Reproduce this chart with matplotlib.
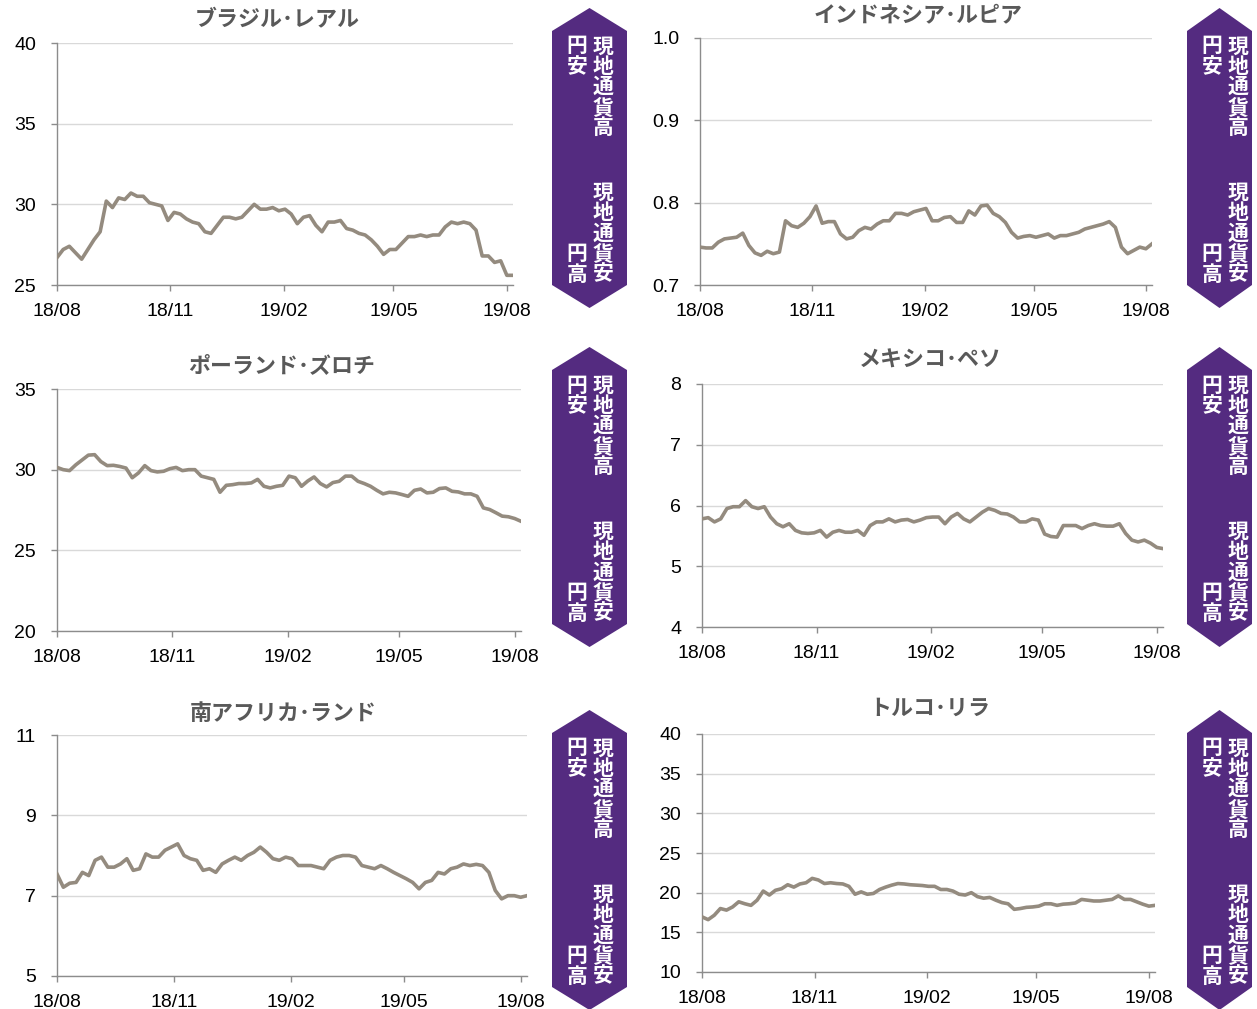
#!/usr/bin/env python3
"""
Emerging market currencies vs JPY (18/08 - 19/08), six small panels
"""
import numpy as np
import pandas as pd
import matplotlib
matplotlib.use('Agg')
import matplotlib.pyplot as plt
import matplotlib.dates as mdates
from matplotlib.patches import Polygon

# ---- data (~5 day steps) ----
date_start = '2018-08-01'
date_end = '2019-08-06'
tick_dates = ['2018-08-01', '2018-11-01', '2019-02-01', '2019-05-01', '2019-08-01']
tick_labels = ['18/08', '18/11', '19/02', '19/05', '19/08']

titles = ['ブラジル･レアル', 'インドネシア･ルピア', 'ポーランド･ズロチ',
          'メキシコ･ペソ', '南アフリカ･ランド', 'トルコ･リラ']

brl = [26.7, 27.2, 27.4, 27.0, 26.6, 27.2, 27.8, 28.3, 30.2, 29.8,
       30.4, 30.3, 30.7, 30.5, 30.5, 30.1, 30.0, 29.9, 29.0, 29.5,
       29.4, 29.1, 28.9, 28.8, 28.3, 28.2, 28.7, 29.2, 29.2, 29.1,
       29.2, 29.6, 30.0, 29.7, 29.7, 29.8, 29.6, 29.7, 29.4, 28.8,
       29.2, 29.3, 28.7, 28.3, 28.9, 28.9, 29.0, 28.5, 28.4, 28.2,
       28.1, 27.8, 27.4, 26.9, 27.2, 27.2, 27.6, 28.0, 28.0, 28.1,
       28.0, 28.1, 28.1, 28.6, 28.9, 28.8, 28.9, 28.8, 28.4, 26.8,
       26.8, 26.4, 26.5, 25.6, 25.6]

idr = [0.746, 0.745, 0.745, 0.752, 0.756, 0.757, 0.758, 0.763, 0.748, 0.739,
       0.736, 0.741, 0.738, 0.740, 0.778, 0.772, 0.770, 0.775, 0.783, 0.796,
       0.775, 0.777, 0.777, 0.762, 0.756, 0.758, 0.766, 0.770, 0.768, 0.774,
       0.778, 0.778, 0.787, 0.787, 0.785, 0.789, 0.791, 0.793, 0.778, 0.778,
       0.782, 0.783, 0.776, 0.776, 0.790, 0.785, 0.796, 0.797, 0.787, 0.783,
       0.776, 0.764, 0.757, 0.759, 0.760, 0.758, 0.760, 0.762, 0.757, 0.760,
       0.760, 0.762, 0.764, 0.768, 0.770, 0.772, 0.774, 0.777, 0.770, 0.746,
       0.738, 0.742, 0.746, 0.744, 0.750]

pln = [30.14, 30.0, 29.94, 30.3, 30.6, 30.9, 30.93, 30.5, 30.25, 30.27,
       30.2, 30.1, 29.5, 29.8, 30.25, 29.94, 29.86, 29.9, 30.06, 30.14,
       29.94, 30.0, 30.0, 29.6, 29.5, 29.4, 28.6, 29.03, 29.07, 29.14,
       29.14, 29.18, 29.4, 28.97, 28.87, 28.97, 29.03, 29.6, 29.5, 28.97,
       29.3, 29.55, 29.14, 28.93, 29.2, 29.28, 29.6, 29.6, 29.28, 29.14,
       28.97, 28.72, 28.5, 28.6, 28.56, 28.46, 28.35, 28.72, 28.8, 28.56,
       28.6, 28.83, 28.87, 28.66, 28.62, 28.5, 28.5, 28.35, 27.63, 27.53,
       27.33, 27.12, 27.08, 26.97, 26.8]

mxn = [5.78, 5.80, 5.73, 5.78, 5.95, 5.98, 5.98, 6.08, 5.98, 5.95,
       5.98, 5.81, 5.70, 5.65, 5.70, 5.59, 5.55, 5.54, 5.55, 5.59,
       5.48, 5.56, 5.59, 5.56, 5.56, 5.59, 5.51, 5.67, 5.73, 5.73,
       5.78, 5.73, 5.76, 5.77, 5.73, 5.76, 5.80, 5.81, 5.81, 5.70,
       5.81, 5.87, 5.78, 5.73, 5.81, 5.89, 5.95, 5.92, 5.87, 5.86,
       5.81, 5.73, 5.73, 5.78, 5.76, 5.53, 5.49, 5.48, 5.67, 5.67,
       5.67, 5.62, 5.67, 5.70, 5.67, 5.66, 5.66, 5.70, 5.54, 5.43,
       5.40, 5.43, 5.38, 5.31, 5.29]

zar = [7.54, 7.21, 7.31, 7.33, 7.58, 7.50, 7.88, 7.96, 7.71, 7.71,
       7.79, 7.92, 7.63, 7.67, 8.04, 7.96, 7.96, 8.13, 8.21, 8.29,
       8.00, 7.92, 7.88, 7.63, 7.67, 7.58, 7.79, 7.88, 7.96, 7.88,
       8.00, 8.08, 8.21, 8.08, 7.92, 7.88, 7.96, 7.92, 7.75, 7.75,
       7.75, 7.71, 7.67, 7.88, 7.96, 8.00, 8.00, 7.96, 7.75, 7.71,
       7.67, 7.75, 7.67, 7.58, 7.50, 7.42, 7.33, 7.17, 7.33, 7.38,
       7.58, 7.54, 7.67, 7.71, 7.79, 7.75, 7.78, 7.75, 7.58, 7.13,
       6.92, 7.00, 7.00, 6.96, 7.00]

try_ = [16.95, 16.6, 17.15, 18.0, 17.8, 18.2, 18.85, 18.6, 18.4, 19.05,
        20.2, 19.7, 20.3, 20.5, 21.0, 20.7, 21.1, 21.25, 21.8, 21.6,
        21.15, 21.25, 21.15, 21.1, 20.8, 19.8, 20.1, 19.8, 19.9, 20.4,
        20.7, 20.95, 21.15, 21.1, 21.0, 20.95, 20.9, 20.8, 20.8, 20.4,
        20.4, 20.2, 19.8, 19.7, 20.0, 19.5, 19.3, 19.4, 19.05, 18.75,
        18.6, 17.9, 18.0, 18.15, 18.2, 18.3, 18.6, 18.6, 18.4, 18.55,
        18.6, 18.7, 19.15, 19.05, 18.95, 18.95, 19.05, 19.15, 19.6, 19.15,
        19.15, 18.85, 18.55, 18.3, 18.4]

yticks = [
    [25, 30, 35, 40],
    [0.7, 0.8, 0.9, 1.0],
    [20, 25, 30, 35],
    [4, 5, 6, 7, 8],
    [5, 7, 9, 11],
    [10, 15, 20, 25, 30, 35, 40],
]

band_top = ['現地通貨高', '円安']
band_bottom = ['現地通貨安', '円高']

# ---- layout (pixels of a 1257x1009 canvas) ----
W, H = 1257, 1009
# left, right, top, bottom of each plot area
axes_px = [
    (57, 513, 43, 285),
    (700, 1152, 38, 285),
    (57, 521, 389, 631),
    (702, 1163, 384, 627),
    (57, 527, 735, 976),
    (702, 1155, 734, 972),
]
title_px = [(277, 20), (918, 15), (282, 366), (930, 360), (283, 713), (930, 708)]
band_px = [(552, 627, 8), (1187, 1252, 8), (552, 627, 347),
           (1187, 1252, 347), (552, 627, 710), (1187, 1252, 710)]

LINE_COLOR = '#948b7f'
BAND_COLOR = '#542b80'
JP_FONT = ['Noto Sans CJK JP', 'DejaVu Sans']


def draw_panel(fig, rect, values, ticks, fmt):
    l, r, t, b = rect
    ax = fig.add_axes([l / W, 1 - b / H, (r - l) / W, (b - t) / H])
    dates = pd.date_range(date_start, date_end, periods=len(values))
    ax.plot(dates, values, color=LINE_COLOR, linewidth=2.6, zorder=3)

    ax.set_xlim(pd.Timestamp(date_start), pd.Timestamp(date_end))
    ax.set_ylim(ticks[0], ticks[-1])
    ax.set_xticks(pd.to_datetime(tick_dates))
    ax.set_xticklabels(tick_labels)
    ax.set_yticks(ticks)
    ax.set_yticklabels([fmt.format(v) for v in ticks])

    for side in ['top', 'right']:
        ax.spines[side].set_visible(False)
    for side in ['left', 'bottom']:
        ax.spines[side].set_color('#8c8c8c')
        ax.spines[side].set_linewidth(1.0)
    ax.grid(axis='y', color='#d9d9d9', linewidth=1.0, zorder=0)
    ax.set_axisbelow(True)
    ax.tick_params(axis='y', length=4, width=1, color='#8c8c8c', pad=11,
                   labelsize=14, labelcolor='black')
    ax.tick_params(axis='x', length=4, width=1, color='#8c8c8c', pad=9,
                   labelsize=14, labelcolor='black')
    for lab in ax.get_xticklabels() + ax.get_yticklabels():
        lab.set_fontfamily('Liberation Sans')
    return ax


def draw_band(over, x0, x1, top):
    xc = (x0 + x1) / 2
    pts = [(x0, top + 23), (xc, top), (x1, top + 23),
           (x1, top + 277), (xc, top + 300), (x0, top + 277)]
    over.add_patch(Polygon(pts, closed=True, facecolor=BAND_COLOR,
                           edgecolor='none'))
    pitch = 20.4
    col_r = x0 + 51
    col_l = x0 + 25
    # upper texts
    for i, ch in enumerate(band_top[0]):
        over.text(col_r, top + 38 + i * pitch, ch, color='white', fontsize=15,
                  fontweight='bold', family=JP_FONT, ha='center', va='center')
    for i, ch in enumerate(band_top[1]):
        over.text(col_l, top + 38 + i * pitch, ch, color='white', fontsize=15,
                  fontweight='bold', family=JP_FONT, ha='center', va='center')
    # lower texts, bottom aligned
    last = top + 266
    s = band_bottom[0]
    for i, ch in enumerate(s):
        over.text(col_r, last - (len(s) - 1 - i) * pitch, ch, color='white',
                  fontsize=15, fontweight='bold', family=JP_FONT,
                  ha='center', va='center')
    s = band_bottom[1]
    for i, ch in enumerate(s):
        over.text(col_l, last - (len(s) - 1 - i) * pitch, ch, color='white',
                  fontsize=15, fontweight='bold', family=JP_FONT,
                  ha='center', va='center')


def main():
    fig = plt.figure(figsize=(W / 100, H / 100), dpi=100)
    fig.patch.set_facecolor('white')

    series = [brl, idr, pln, mxn, zar, try_]
    fmts = ['{:.0f}', '{:.1f}', '{:.0f}', '{:.0f}', '{:.0f}', '{:.0f}']
    for i in range(6):
        draw_panel(fig, axes_px[i], series[i], yticks[i], fmts[i])

    over = fig.add_axes([0, 0, 1, 1], zorder=10)
    over.set_xlim(0, W)
    over.set_ylim(H, 0)
    over.axis('off')
    over.patch.set_alpha(0)

    for i in range(6):
        x, y = title_px[i]
        over.text(x, y, titles[i], color='#595959', fontsize=15.8,
                  fontweight='bold', family=JP_FONT, ha='center', va='center')
    for x0, x1, top in band_px:
        draw_band(over, x0, x1, top)

    fig.savefig('out.png', dpi=100)


if __name__ == '__main__':
    main()
